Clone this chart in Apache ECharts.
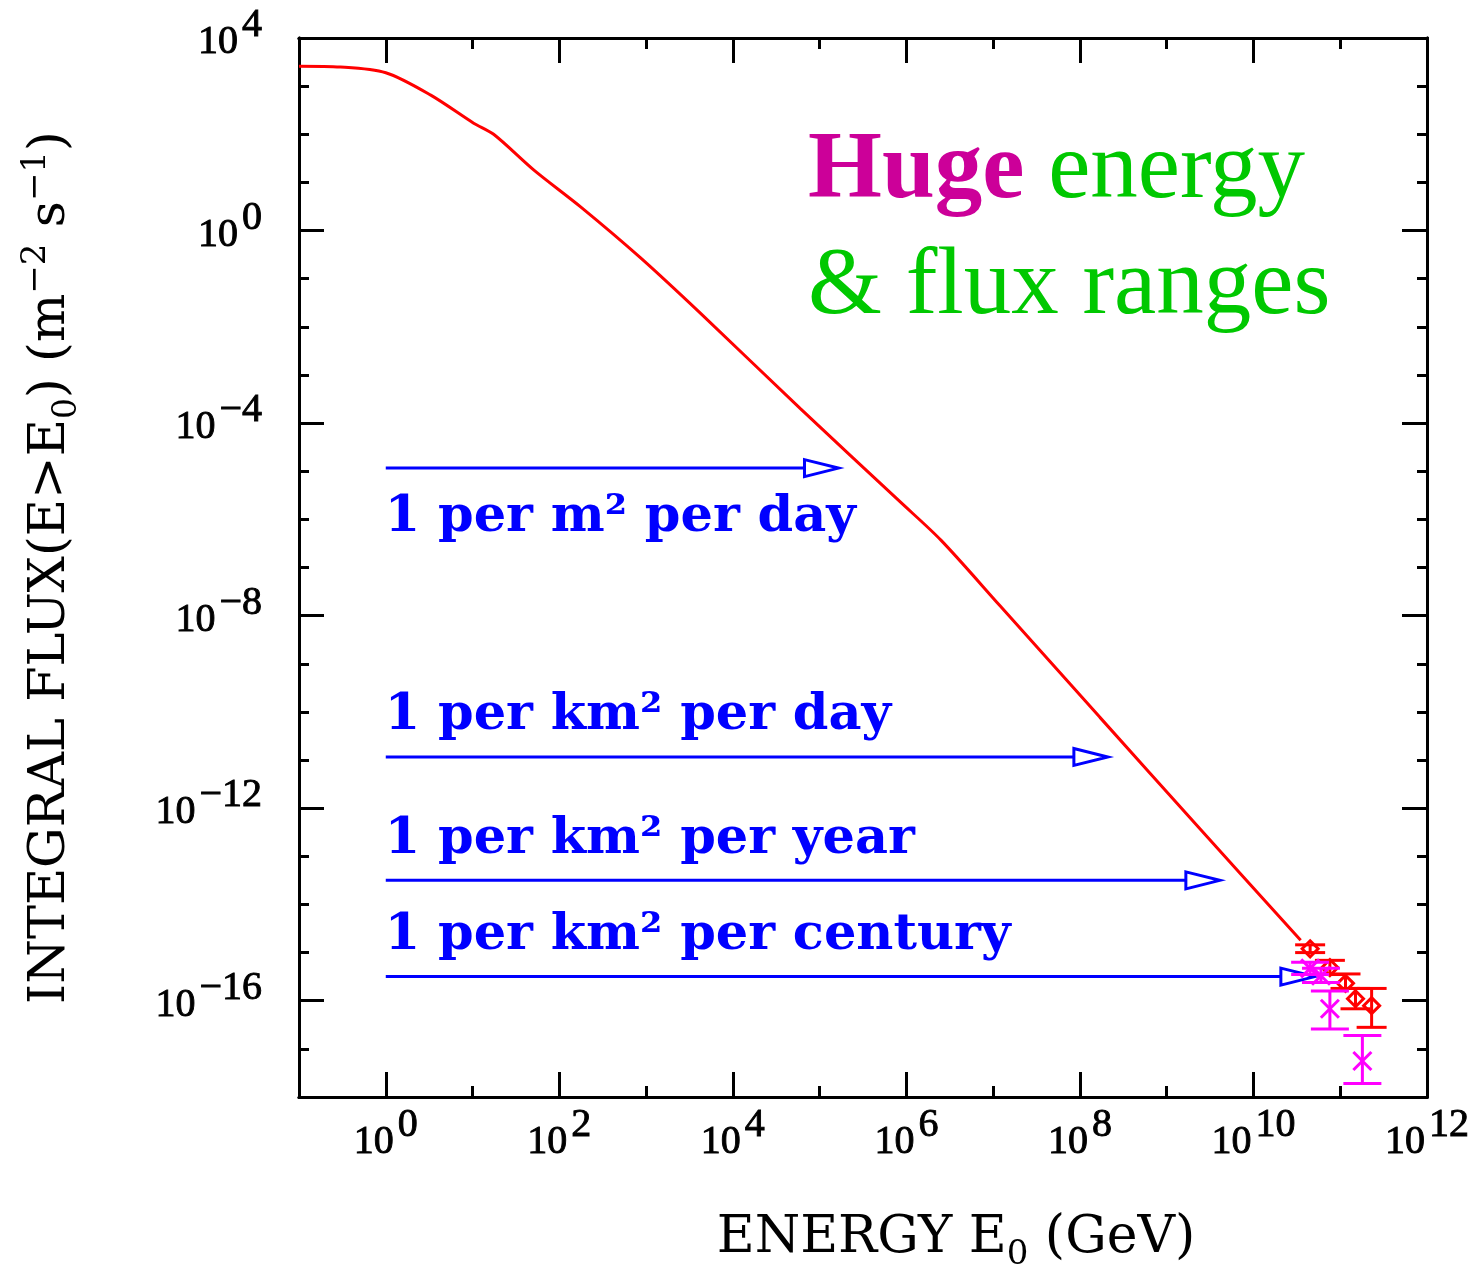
<!DOCTYPE html>
<html>
<head>
<meta charset="utf-8">
<script src="https://cdn.jsdelivr.net/npm/echarts@6/dist/echarts.min.js"></script>
<style>
html,body{margin:0;padding:0;background:#ffffff;}
#chart{width:1476px;height:1270px;}
</style>
</head>
<body>
<div id="chart"></div>
<script>
// ---------------- data ----------------
// integral cosmic-ray flux curve: energy in GeV, flux in m^-2 s^-1
const curveEnergy = [0.1, 0.30, 1.0, 3.3, 10.3, 17.5, 51, 176, 865, 4250, 6.0e4, 8.5e5, 2.5e6, 1.2e7, 1.7e8, 2.4e9, 3.5e10];
const curveFlux   = [2.6e3, 2.5e3, 1.9e3, 650, 170, 100, 18, 3.1, 0.27, 0.019, 2.0e-4, 2.3e-6, 3.7e-7, 1.6e-8, 7.7e-11, 3.8e-13, 1.8e-15];

// rate reference arrows
const arrowLabels      = ['1 per m² per day', '1 per km² per day', '1 per km² per year', '1 per km² per century'];
const arrowFlux        = [1.16e-5, 1.16e-11, 3.17e-14, 3.17e-16];
const arrowStartEnergy = [1, 1, 1, 1];
const arrowEndEnergy   = [1.65e5, 2.1e8, 4.1e9, 5.1e10];

// highest-energy measurements (red diamonds)
const redEnergy = [4.5e10, 7.6e10, 1.15e11, 1.5e11, 2.3e11];
const redFlux   = [1.2e-15, 4.9e-16, 2.3e-16, 1.1e-16, 7.9e-17];
const redLow    = [1.0e-15, 3.5e-16, 1.8e-16, 6.8e-17, 2.8e-17];
const redHigh   = [1.45e-15, 6.9e-16, 3.6e-16, 1.8e-16, 1.8e-16];

// highest-energy measurements (magenta crosses)
const magEnergy = [4.5e10, 6.0e10, 7.6e10, 1.8e11];
const magFlux   = [4.7e-16, 3.3e-16, 6.8e-17, 5.6e-18];
const magLow    = [3.5e-16, 2.4e-16, 2.6e-17, 1.9e-18];
const magHigh   = [6.3e-16, 4.7e-16, 1.6e-16, 1.9e-17];

// axis ranges / ticks (decades)
const xMinExp = -1, xMaxExp = 12;
const yMinExp = -18, yMaxExp = 4;
const xLabelExps = [0, 2, 4, 6, 8, 10, 12];
const yLabelExps = [-16, -12, -8, -4, 0, 4];

// ---------------- helpers ----------------
const lg = Math.log10;
function expText(v) { return String(Math.round(v)).replace('-', '\u2212'); }
function powLabel(v) { return '{b|10}{e|' + expText(v) + '}'; }

const tickFont = { fontFamily: 'Liberation Serif', fontSize: 40, color: '#000', textBorderColor: '#000', textBorderWidth: 0.9 };
const tickRich = {
  b: Object.assign({}, tickFont, { verticalAlign: 'bottom', padding: [0, 0, 8, 0] }),
  e: Object.assign({}, tickFont, { verticalAlign: 'bottom', padding: [0, 0, 25, 4] })
};

const curveData = curveEnergy.map((e, i) => [lg(e), lg(curveFlux[i])]);
const arrowData = arrowFlux.map((f, i) => [lg(arrowStartEnergy[i]), lg(arrowEndEnergy[i]), lg(f)]);
const redData = redEnergy.map((e, i) => [lg(e), lg(redFlux[i]), lg(redLow[i]), lg(redHigh[i])]);
const magData = magEnergy.map((e, i) => [lg(e), lg(magFlux[i]), lg(magLow[i]), lg(magHigh[i])]);

const frame = { show: true, onZero: false, lineStyle: { color: '#000', width: 3 } };
const titleFont = 'DejaVu Serif';

function xAx(pos, major, labeled) {
  const ax = {
    type: 'value', position: pos, min: xMinExp, max: xMaxExp, interval: 1,
    axisLine: frame, splitLine: { show: false },
    axisTick: major
      ? { show: true, inside: true, length: 25, customValues: xLabelExps, lineStyle: { color: '#000', width: 3 } }
      : { show: true, inside: true, length: 11, lineStyle: { color: '#000', width: 3 } },
    axisLabel: { show: false }
  };
  if (labeled) {
    ax.axisLabel = { show: true, customValues: xLabelExps, margin: 8, formatter: powLabel, rich: tickRich };
    ax.name = '{t|ENERGY E}{s|0}{t| (GeV)}';
    ax.nameLocation = 'middle';
    ax.nameGap = 115;
    ax.nameTextStyle = {
      padding: [0, 0, 0, 186],
      rich: {
        t: { fontFamily: titleFont, fontSize: 52, color: '#000', verticalAlign: 'top' },
        s: { fontFamily: titleFont, fontSize: 34, color: '#000', verticalAlign: 'top', padding: [26, 0, 0, 0] }
      }
    };
  }
  return ax;
}

function yAx(pos, major, labeled) {
  const ax = {
    type: 'value', position: pos, min: yMinExp, max: yMaxExp, interval: 1,
    axisLine: frame, splitLine: { show: false },
    axisTick: major
      ? { show: true, inside: true, length: 25, customValues: yLabelExps, lineStyle: { color: '#000', width: 3 } }
      : { show: true, inside: true, length: 10, lineStyle: { color: '#000', width: 3 } },
    axisLabel: { show: false }
  };
  if (labeled) {
    ax.axisLabel = { show: true, customValues: yLabelExps, margin: 37, formatter: powLabel, rich: tickRich };
    ax.name = '{t|INTEGRAL FLUX(E>E}{s|0}{t|) (m}{p|\u22122}{t| s}{p|\u22121}{t|)}';
    ax.nameLocation = 'middle';
    ax.nameGap = 215;
    ax.nameTextStyle = {
      rich: {
        t: { fontFamily: titleFont, fontSize: 51, color: '#000', verticalAlign: 'top', padding: [6, 0, 0, 0] },
        s: { fontFamily: titleFont, fontSize: 33, color: '#000', verticalAlign: 'top', padding: [32, 0, 0, 0] },
        p: { fontFamily: titleFont, fontSize: 34, color: '#000', verticalAlign: 'top', padding: [0, 0, 0, 0] }
      }
    };
  }
  return ax;
}

const chart = echarts.init(document.getElementById('chart'), null, { renderer: 'canvas' });

const option = {
  backgroundColor: '#ffffff',
  animation: false,
  grid: { left: 299, top: 38, right: 49, bottom: 173, containLabel: false, outerBoundsMode: 'none' },
  xAxis: [xAx('bottom', true, true), xAx('bottom', false, false), xAx('top', true, false), xAx('top', false, false)],
  yAxis: [yAx('left', true, true), yAx('left', false, false), yAx('right', true, false), yAx('right', false, false)],
  graphic: [{
    type: 'text', left: 808, top: 125, z: 10,
    style: {
      text: '{h|Huge}{g| energy}\n{g|& flux ranges}',
      rich: {
        h: { fontFamily: 'Liberation Serif', fontWeight: 'bold', fontSize: 95, fill: '#cc0099', lineHeight: 116 },
        g: { fontFamily: 'Liberation Serif', fontSize: 95, fill: '#00c800', lineHeight: 116 }
      }
    }
  }],
  series: [
    {
      type: 'line', name: 'flux', xAxisIndex: 0, yAxisIndex: 0,
      data: curveData, showSymbol: false, smooth: 0.3, clip: true,
      lineStyle: { color: '#ff0000', width: 3 }, z: 3
    },
    {
      type: 'custom', name: 'rates', xAxisIndex: 0, yAxisIndex: 0, data: arrowData, z: 4,
      renderItem: function (params, api) {
        const i = params.dataIndex;
        const p0 = api.coord([api.value(0), api.value(2)]);
        const p1 = api.coord([api.value(1), api.value(2)]);
        const hl = 34, hh = 8.5;
        const below = i === 0;
        return {
          type: 'group',
          children: [
            { type: 'line', shape: { x1: p0[0], y1: p0[1], x2: p1[0] - hl, y2: p1[1] }, style: { stroke: '#0000ff', lineWidth: 3 } },
            { type: 'polygon', shape: { points: [[p1[0] - hl, p1[1] - hh], [p1[0], p1[1]], [p1[0] - hl, p1[1] + hh]] }, style: { fill: '#ffffff', stroke: '#0000ff', lineWidth: 3 } },
            { type: 'text', x: p0[0] - 1, y: p0[1] + (below ? 50 : -41),
              style: { text: arrowLabels[i], fill: '#0000ff', font: 'bold 51px "DejaVu Serif"', verticalAlign: 'middle', align: 'left' } }
          ]
        };
      }
    },
    {
      type: 'custom', name: 'red data', xAxisIndex: 0, yAxisIndex: 0, data: redData, z: 5,
      renderItem: function (params, api) {
        const c = api.coord([api.value(0), api.value(1)]);
        const lo = api.coord([api.value(0), api.value(2)]);
        const hi = api.coord([api.value(0), api.value(3)]);
        const w = 15, d = 8;
        const st = { stroke: '#ff0000', lineWidth: 3, fill: null };
        return {
          type: 'group',
          children: [
            { type: 'line', shape: { x1: c[0], y1: lo[1], x2: c[0], y2: hi[1] }, style: st },
            { type: 'line', shape: { x1: c[0] - w, y1: lo[1], x2: c[0] + w, y2: lo[1] }, style: st },
            { type: 'line', shape: { x1: c[0] - w, y1: hi[1], x2: c[0] + w, y2: hi[1] }, style: st },
            { type: 'polygon', shape: { points: [[c[0], c[1] - d], [c[0] + d, c[1]], [c[0], c[1] + d], [c[0] - d, c[1]]] }, style: { stroke: '#ff0000', lineWidth: 3, fill: 'none' } }
          ]
        };
      }
    },
    {
      type: 'custom', name: 'magenta data', xAxisIndex: 0, yAxisIndex: 0, data: magData, z: 6,
      renderItem: function (params, api) {
        const c = api.coord([api.value(0), api.value(1)]);
        const lo = api.coord([api.value(0), api.value(2)]);
        const hi = api.coord([api.value(0), api.value(3)]);
        const w = 19, d = 9;
        const st = { stroke: '#ff00ff', lineWidth: 3 };
        return {
          type: 'group',
          children: [
            { type: 'line', shape: { x1: c[0], y1: lo[1], x2: c[0], y2: hi[1] }, style: st },
            { type: 'line', shape: { x1: c[0] - w, y1: lo[1], x2: c[0] + w, y2: lo[1] }, style: st },
            { type: 'line', shape: { x1: c[0] - w, y1: hi[1], x2: c[0] + w, y2: hi[1] }, style: st },
            { type: 'line', shape: { x1: c[0] - d, y1: c[1] - d, x2: c[0] + d, y2: c[1] + d }, style: st },
            { type: 'line', shape: { x1: c[0] - d, y1: c[1] + d, x2: c[0] + d, y2: c[1] - d }, style: st }
          ]
        };
      }
    }
  ]
};

chart.setOption(option);
</script>
</body>
</html>
